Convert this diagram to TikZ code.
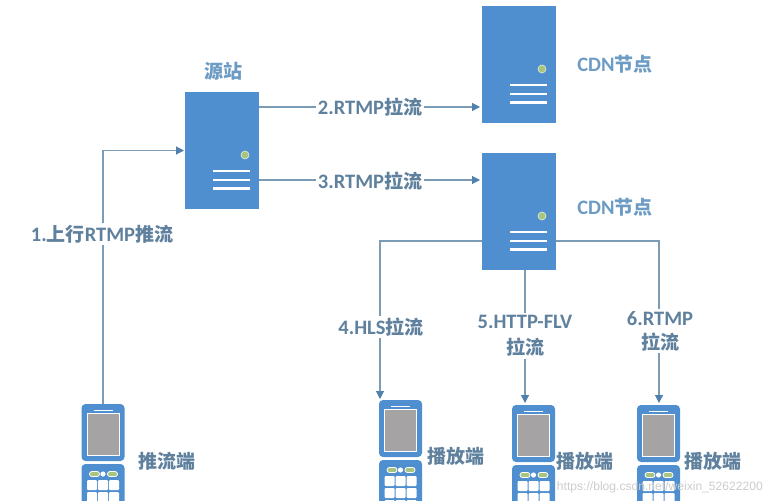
\documentclass[tikz,border=0pt]{standalone}
\usepackage{fontspec}
\setmainfont{Noto Sans CJK SC}
\newfontfamily\latfont{Carlito}
\newcommand{\lat}[1]{{\latfont\bfseries\fontsize{20.5}{24}\selectfont #1}}
\newfontfamily\wmfont{Liberation Sans}
\usetikzlibrary{arrows.meta}
\definecolor{bodyblue}{HTML}{4F8FD0}
\definecolor{linegray}{HTML}{7C9CB6}
\definecolor{tipblue}{HTML}{4F80AE}
\definecolor{labelc}{HTML}{5F819E}
\definecolor{titlec}{HTML}{6C9BC4}
\definecolor{screen}{HTML}{A5A3A3}
\definecolor{ledgreen}{HTML}{A9C47F}
\tikzset{
  serverbody/.style={fill=bodyblue,draw=none,minimum width=74pt,minimum height=117pt,inner sep=0pt,outer sep=0pt},
  phonebody/.style={fill=bodyblue,draw=none,rounded corners=4pt,minimum width=43pt,minimum height=57pt,inner sep=0pt,outer sep=0pt},
  conn/.style={draw=linegray,line width=1.1pt,-{Triangle[length=8pt,width=8pt,color=tipblue,fill=tipblue]}},
  flow/.style={fill=white,text=labelc,font=\fontsize{19}{24}\selectfont\bfseries,inner sep=2pt,align=center},
  title/.style={text=titlec,font=\fontsize{19}{24}\selectfont\bfseries,inner sep=0pt},
}
\newcommand{\serverpic}[3]{% name, x, y
  \node[serverbody,anchor=north west] (#1) at (#2,#3) {};
  \begin{scope}[shift={(#2,#3)}]
    \fill[ledgreen,draw=white!70!ledgreen,line width=.6pt] (60,63) circle (4);
    \foreach \yy in {79,88,96.5}{\draw[white,line width=2.6pt] (28,\yy) -- (65,\yy);}
  \end{scope}}
\newcommand{\phonepic}[3]{% name, x, y
  \node[phonebody,anchor=north west] (#1) at (#2,#3) {};
  \begin{scope}[shift={(#2,#3)}]
    \draw[white,line width=1.6pt] (12,6.5) -- (31,6.5);
    \fill[screen,draw=white,line width=1pt] (5.5,9.5) rectangle (37.5,51);
    \fill[bodyblue,rounded corners=4pt] (0,60) rectangle (43,110);
    \fill[ledgreen,draw=white,line width=.8pt,rounded corners=2.4pt] (8,67.5) rectangle (18,72.5);
    \fill[white] (21.5,70) circle (2.6);
    \fill[ledgreen,draw=white,line width=.8pt,rounded corners=2.4pt] (26,67.5) rectangle (36,72.5);
    \foreach \cx in {5.5,16.5,27.5}{\foreach \cy in {76,88,100}{
      \fill[white,rounded corners=1pt] (\cx,\cy) rectangle ++(10,10);}}
  \end{scope}}
\begin{document}
\begin{tikzpicture}[x=1pt,y=-1pt]
  \useasboundingbox (0,0) rectangle (770,500);
  \clip (0,0) rectangle (770,500);
  \serverpic{src}{185}{92}
  \serverpic{cdna}{482}{6}
  \serverpic{cdnb}{482}{153}
  \phonepic{pusher}{81.5}{404}
  \phonepic{playa}{379}{400}
  \phonepic{playb}{512}{405}
  \phonepic{playc}{637}{405}
  \coordinate (ina) at (380,399);
  \coordinate (inb) at (525,403);
  \coordinate (inc) at (659,403);
  \coordinate (oa) at (482,241);
  \coordinate (ob) at (525,270);
  \coordinate (oc) at (556,241);
  \draw[conn,shorten >=1pt] (pusher.north) |- (src.west);
  \draw[conn,shorten >=2pt] ([yshift=43.5pt]src.east) -- ([yshift=-42.5pt]cdna.west);
  \draw[conn,shorten >=2pt] ([yshift=-29.5pt]src.east) -- ([yshift=31.5pt]cdnb.west);
  \draw[conn] (oa) -| (ina);
  \draw[conn] (ob) -- (inb);
  \draw[conn] (oc) -| (inc);
  \node[flow] (l1) at (102,234) {\lat{1.}上行\lat{RTMP}推流};
  \node[flow] (l2) at (370,107) {\lat{2.RTMP}拉流};
  \node[flow] (l3) at (370,181) {\lat{3.RTMP}拉流};
  \node[flow] (l4) at (381,327) {\lat{4.HLS}拉流};
  \node[flow] (l5) at (525,336) {\lat{5.HTTP-FLV}\\[2pt]拉流};
  \node[flow] (l6) at (660,331) {\lat{6.RTMP}\\拉流};
  \node[title] (t0) at (223,71) {源站};
  \node[title] (t1) at (615,64) {\lat{CDN}节点};
  \node[title] (t2) at (615,207) {\lat{CDN}节点};
  \node[flow,fill=none] (t3) at (167,461) {推流端};
  \node[flow,fill=none] (t4) at (456,456) {播放端};
  \node[flow,fill=none] (t5) at (584.5,461) {播放端};
  \node[flow,fill=none] (t6) at (712.5,461) {播放端};
  \node[text=black!20,font=\wmfont\fontsize{12.1}{14}\selectfont,inner sep=0pt,anchor=east] (wm) at (763,487) {https://blog.csdn.net/weixin\_52622200};
\end{tikzpicture}
\end{document}
